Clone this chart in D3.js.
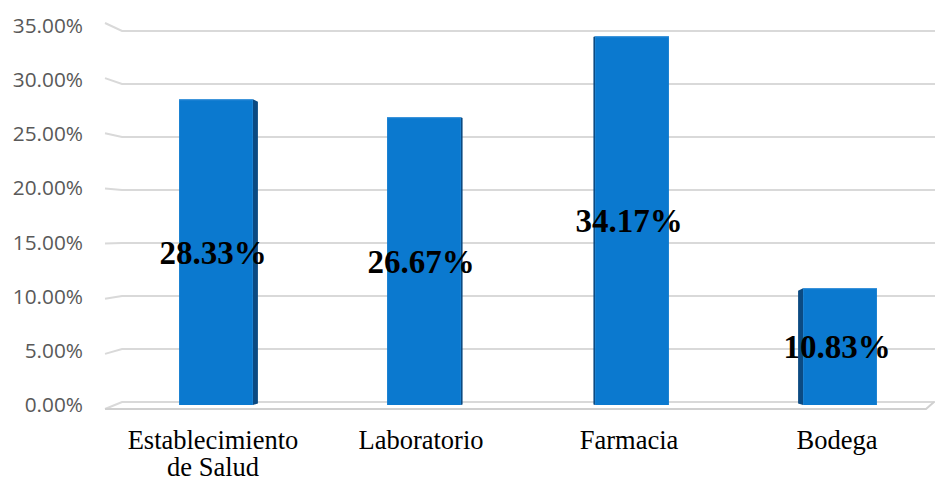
<!DOCTYPE html>
<html>
<head>
<meta charset="utf-8">
<script src="https://cdn.jsdelivr.net/npm/d3@7/dist/d3.min.js"></script>
<style>
  html, body { margin: 0; padding: 0; background: #fff; }
  svg { display: block; }
</style>
</head>
<body>
<svg id="chart" width="935" height="481"></svg>
<script>
// Share of responses by place of work
const categories = [["Establecimiento", "de Salud"], ["Laboratorio"], ["Farmacia"], ["Bodega"]];
const values = [28.33, 26.67, 34.17, 10.83];
const tickValues = [0, 5, 10, 15, 20, 25, 30, 35];
const tickLabels = ["0.00%", "5.00%", "10.00%", "15.00%", "20.00%", "25.00%", "30.00%", "35.00%"];

const svg = d3.select("#chart");
const W = 935;

// Back wall and front edge of the 3D frame use slightly different vertical scales
const yBack = d3.scaleLinear().domain([0, 35]).range([402, 31]);
const yFront = d3.scaleLinear().domain([0, 35]).range([409, 23]);
const yBar = d3.scaleLinear().domain([0, 35]).range([405, 27.3]);

const x = d3.scaleBand().domain(d3.range(categories.length)).range([112, 944]).paddingInner(0.645).paddingOuter(0.3225);

const frontX = 105, backX = 122;

// Gridlines: short perspective segment on the left wall, then straight across the back wall
const grid = svg.append("g");
tickValues.forEach(v => {
  grid.append("path")
    .attr("d", d3.line()([[frontX, yFront(v)], [backX, yBack(v)], [W, yBack(v)]]))
    .attr("fill", "none")
    .attr("stroke", "#d9d9d9")
    .attr("stroke-width", 2);
});
// Front edge of the floor
grid.append("path")
  .attr("d", d3.line()([[frontX, yFront(0)], [926, yFront(0)], [934, yBack(0)]]))
  .attr("fill", "none")
  .attr("stroke", "#d0d0d0")
  .attr("stroke-width", 2);

// Y axis labels
svg.append("g").selectAll("text")
  .data(tickValues)
  .join("text")
  .attr("x", 83)
  .attr("y", d => (yFront(d) + yBack(d)) / 2 - 1)
  .attr("dy", "0.35em")
  .attr("text-anchor", "end")
  .attr("font-family", "'Open Sans', sans-serif")
  .attr("font-size", 20.8)
  .attr("fill", "#595959")
  .text((d, i) => tickLabels[i]);

// Bars with a shaded side face given by the viewing angle
const vanishX = 528;
const bars = svg.append("g");
values.forEach((v, i) => {
  const x0 = x(i), bw = x.bandwidth();
  const cx = x0 + bw / 2;
  const side = (cx - vanishX) * 0.016;
  const top = yBar(v), bottom = yBar(0);
  if (side < 0) {
    // right-hand side face visible
    const s = -side;
    bars.append("path")
      .attr("d", d3.line()([[x0 + bw, top], [x0 + bw + s, top + s * 0.5], [x0 + bw + s, bottom - s * 0.3], [x0 + bw, bottom]]) + "Z")
      .attr("fill", "#0b4a82");
  } else {
    bars.append("path")
      .attr("d", d3.line()([[x0, top], [x0 - side, top + side * 0.5], [x0 - side, bottom - side * 0.3], [x0, bottom]]) + "Z")
      .attr("fill", "#0b4a82");
  }
  bars.append("rect")
    .attr("x", x0)
    .attr("y", top)
    .attr("width", bw)
    .attr("height", bottom - top)
    .attr("fill", "#0b79cf");
  bars.append("line")
    .attr("x1", x0).attr("x2", x0 + bw)
    .attr("y1", top + 0.5).attr("y2", top + 0.5)
    .attr("stroke", "#3d94da").attr("stroke-width", 1);
});

// Value labels centered within each bar
svg.append("g").selectAll("text")
  .data(values)
  .join("text")
  .attr("x", (d, i) => x(i) + x.bandwidth() / 2 - 3)
  .attr("y", d => (yBar(d) + yBar(0)) / 2)
  .attr("dy", "0.35em")
  .attr("text-anchor", "middle")
  .attr("font-family", "'Liberation Serif', 'Times New Roman', serif")
  .attr("font-weight", "bold")
  .attr("font-size", 33)
  .attr("fill", "#000")
  .text(d => d.toFixed(2) + "%");

// Category labels
const cat = svg.append("g");
categories.forEach((lines, i) => {
  const cxl = x(i) + x.bandwidth() / 2 - 3;
  const t = cat.append("text")
    .attr("x", cxl)
    .attr("y", 449)
    .attr("text-anchor", "middle")
    .attr("font-family", "'Liberation Serif', 'Times New Roman', serif")
    .attr("font-size", 26.5)
    .attr("fill", "#000");
  lines.forEach((line, j) => {
    t.append("tspan")
      .attr("x", cxl)
      .attr("dy", j === 0 ? 0 : 27)
      .text(line);
  });
});
</script>
</body>
</html>
